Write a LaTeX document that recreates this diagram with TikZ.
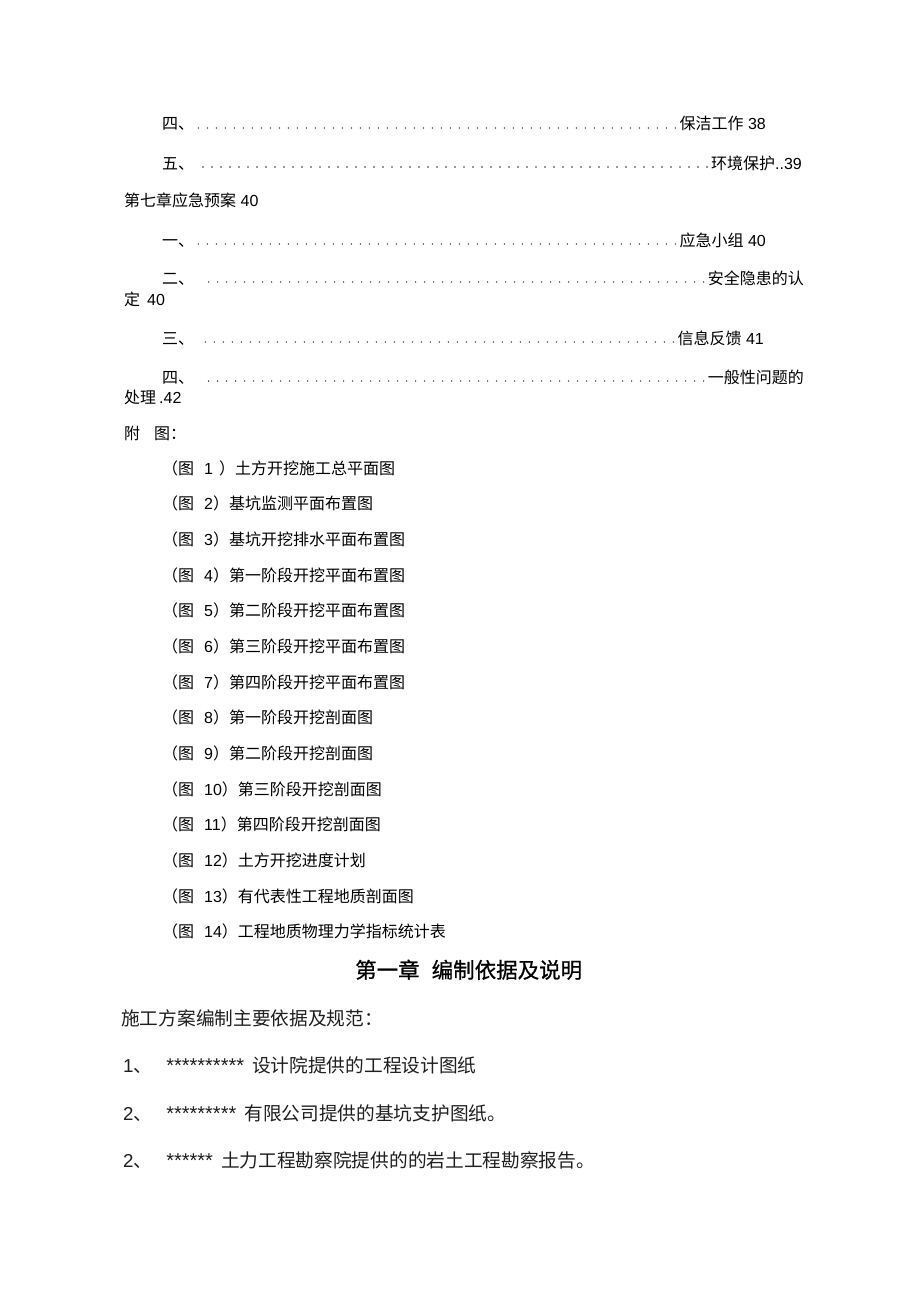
\documentclass[tikz,border=0pt]{standalone}
\usepackage{fontspec}
\setmainfont{Liberation Sans}
\newfontfamily\cjk{Noto Sans CJK SC}
\newfontfamily\cjkhead[FakeBold=0.7]{Noto Sans CJK SC}

\tikzset{
  toc/.style={inner sep=0pt, font=\fontsize{16}{16}\selectfont},
  leader/.style={line width=1.7pt, line cap=round, dash pattern=on 0pt off 9pt, black!80},
  figline/.style={inner sep=0pt, anchor=base west, font=\fontsize{16}{16}\selectfont},
  body/.style={inner sep=0pt, anchor=base west, font=\fontsize{18.7}{18.7}\selectfont, black!88},
}
\newcommand{\stars}[1]{{\fontsize{20}{20}\selectfont #1}}

\begin{document}
\begin{tikzpicture}[x=1pt,y=-1pt]
\useasboundingbox (0,0) rectangle (920,1303);
\fill[white] (0,0) rectangle (920,1303); % page

% contents, end of chapter six
\node[toc, anchor=base west] (si) at (162,130) {\cjk 四、};
\node[toc, anchor=base east] (baojie) at (766,130) {{\cjk 保洁工作} 38};
\draw[leader] ([xshift=-4pt,yshift=2pt]baojie.base west) -- ([xshift=3pt,yshift=2pt]si.base east); % dots
\node[toc, anchor=base west] (wu) at (162,169) {\cjk 五、};
\node[toc, anchor=base east] (huanjing) at (802,169) {{\cjk 环境保护}..39};
\draw[leader] ([xshift=-4pt,yshift=2pt]huanjing.base west) -- ([xshift=6pt,yshift=2pt]wu.base east); % dots

% chapter seven
\node[toc, anchor=base west] (ch7) at (124,206) {{\cjk 第七章应急预案} 40};
\node[toc, anchor=base west] (yi) at (162,246) {\cjk 一、};
\node[toc, anchor=base east] (xiaozu) at (766,246) {{\cjk 应急小组} 40};
\draw[leader] ([xshift=-4pt,yshift=2pt]xiaozu.base west) -- ([xshift=3pt,yshift=2pt]yi.base east); % dots
\node[toc, anchor=base west] (er) at (162,284) {\cjk 二、};
\node[toc, anchor=base east] (yinhuan) at (804,284) {\cjk 安全隐患的认};
\draw[leader] ([xshift=-4pt,yshift=2pt]yinhuan.base west) -- ([xshift=6pt,yshift=2pt]er.base east); % dots
\node[toc, anchor=base west] (yinhuanb) at (124,305) {{\cjk 定}\hspace{7pt}40}; % wrapped line
\node[toc, anchor=base west] (san) at (162,344) {\cjk 三、};
\node[toc, anchor=base east] (fankui) at (764,344) {{\cjk 信息反馈} 41};
\draw[leader] ([xshift=-4pt,yshift=2pt]fankui.base west) -- ([xshift=3pt,yshift=2pt]san.base east); % dots
\node[toc, anchor=base west] (sib) at (162,383) {\cjk 四、};
\node[toc, anchor=base east] (wenti) at (804,383) {\cjk 一般性问题的};
\draw[leader] ([xshift=-4pt,yshift=2pt]wenti.base west) -- ([xshift=6pt,yshift=2pt]sib.base east); % dots
\node[toc, anchor=base west] (wentib) at (124,403) {{\cjk 处理}\hspace{3pt}.42}; % wrapped line

% appendix drawings
\node[toc, anchor=base west] (futu) at (124,439) {\cjk 附\hspace{14pt}图：};
\foreach \n/\t [count=\i] in {1\hspace{6pt}/土方开挖施工总平面图, 2/基坑监测平面布置图, 3/基坑开挖排水平面布置图,
  4/第一阶段开挖平面布置图, 5/第二阶段开挖平面布置图, 6/第三阶段开挖平面布置图, 7/第四阶段开挖平面布置图,
  8/第一阶段开挖剖面图, 9/第二阶段开挖剖面图, 10/第三阶段开挖剖面图, 11/第四阶段开挖剖面图,
  12/土方开挖进度计划, 13/有代表性工程地质剖面图, 14/工程地质物理力学指标统计表}
  \node[figline] (fig\i) at (162,{474+35.67*(\i-1)}) {{\cjk （图}\hspace{10pt}\n{\cjk ）\t}};

% chapter one
\node[inner sep=0pt, anchor=base west, font=\fontsize{21.5}{21.5}\selectfont] (ch1) at (355,978) {\cjkhead 第一章\hspace{12pt}编制依据及说明};
\node[body] (basis) at (121,1025) {\cjk 施工方案编制主要依据及规范：};
\node[body] (ref1) at (123,1072) {1{\cjk 、}\hspace{14pt}\stars{**********}\hspace{8pt}{\cjk 设计院提供的工程设计图纸}};
\node[body] (ref2) at (123,1120) {2{\cjk 、}\hspace{14pt}\stars{*********}\hspace{8pt}{\cjk 有限公司提供的基坑支护图纸。}};
\node[body] (ref3) at (123,1167) {2{\cjk 、}\hspace{14pt}\stars{******}\hspace{8pt}{\cjk 土力工程勘察院提供的的岩土工程勘察报告。}};
\end{tikzpicture}
\end{document}
